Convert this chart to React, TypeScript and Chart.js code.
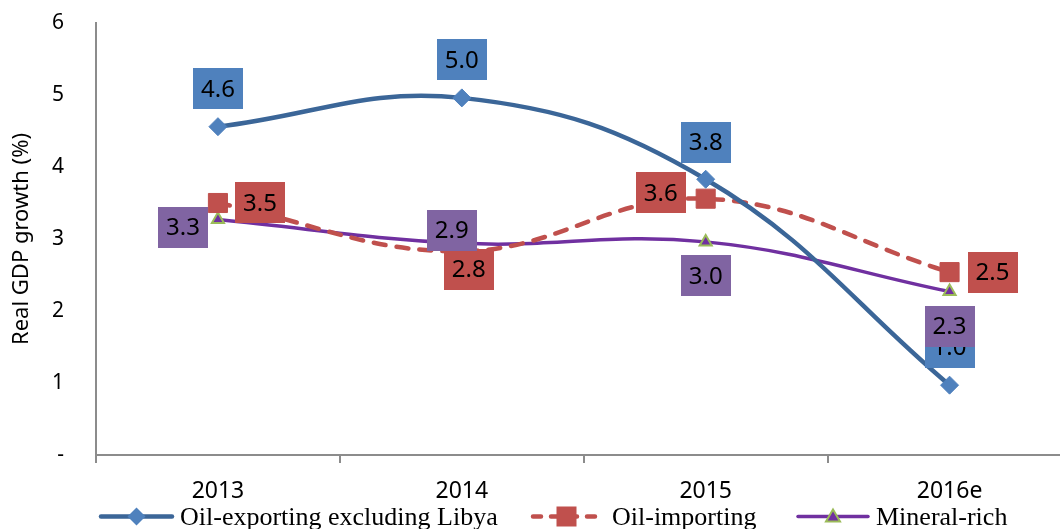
import React, { useEffect, useRef } from 'react';
import { Chart, registerables } from 'chart.js';

Chart.register(...registerables);

const categories = ['2013', '2014', '2015', '2016e'];
const oilExporting = [4.56, 4.96, 3.83, 0.97];
const oilImporting = [3.5, 2.83, 3.56, 2.54];
const mineralRich = [3.27, 2.94, 2.96, 2.27];
const oilExportingLabels = ['4.6', '5.0', '3.8', '1.0'];
const oilImportingLabels = ['3.5', '2.8', '3.6', '2.5'];
const mineralRichLabels = ['3.3', '2.9', '3.0', '2.3'];
const seriesNames = ['Oil-exporting excluding Libya', 'Oil-importing', 'Mineral-rich'];
const yMin = 0;
const yMax = 6;
const yStep = 1;

// label box offsets (pixels) relative to each point — styling only
const labelOffsets = [
  [[0, -38], [0, -38], [0, -37], [0, -38]],
  [[42, 0], [7, 18], [-45, -6], [43, 0]],
  [[-35, 8], [-10, -13], [0, 34], [0, 35]],
];
const labelColors = ['#4F81BD', '#C0504D', '#8064A2'];
const allLabels = [oilExportingLabels, oilImportingLabels, mineralRichLabels];

const SANS = '"Noto Sans", sans-serif';
const SERIF = '"Liberation Serif", serif';
const AXIS = '#8c8c8c';
const CANVAS_W = 1086;

const dataLabelPlugin = {
  id: 'dataLabelBoxes',
  afterDatasetsDraw(chart: any) {
    const ctx = chart.ctx;
    ctx.save();
    ctx.font = `24px ${SANS}`;
    ctx.textAlign = 'center';
    ctx.textBaseline = 'middle';
    chart.data.datasets.forEach((ds: any, i: number) => {
      const meta = chart.getDatasetMeta(i);
      meta.data.forEach((pt: any, j: number) => {
        const [dx, dy] = labelOffsets[i][j];
        const cx = pt.x + dx;
        const cy = pt.y + dy;
        const text = allLabels[i][j];
        const w = 50;
        const h = 41;
        ctx.fillStyle = labelColors[i];
        ctx.fillRect(Math.round(cx - w / 2), Math.round(cy - h / 2), w, h);
        ctx.fillStyle = '#000';
        ctx.fillText(text, cx, cy + 1);
      });
    });
    ctx.restore();
  },
};

function drawMarker(ctx: CanvasRenderingContext2D, kind: string, x: number, y: number) {
  ctx.save();
  if (kind === 'diamond') {
    ctx.fillStyle = '#4F81BD';
    ctx.beginPath();
    ctx.moveTo(x, y - 9);
    ctx.lineTo(x + 9, y);
    ctx.lineTo(x, y + 9);
    ctx.lineTo(x - 9, y);
    ctx.closePath();
    ctx.fill();
  } else if (kind === 'square') {
    ctx.fillStyle = '#C0504D';
    ctx.fillRect(x - 10, y - 10, 20, 20);
  } else {
    ctx.fillStyle = '#7030A0';
    ctx.strokeStyle = '#9BBB59';
    ctx.lineWidth = 2;
    ctx.beginPath();
    ctx.moveTo(x, y - 7);
    ctx.lineTo(x + 7, y + 5);
    ctx.lineTo(x - 7, y + 5);
    ctx.closePath();
    ctx.fill();
    ctx.stroke();
  }
  ctx.restore();
}

const legendPlugin = {
  id: 'bottomLegend',
  afterDraw(chart: any) {
    const ctx = chart.ctx;
    const cy = 516.5;
    const items = [
      { x0: 101, x1: 172, color: '#3B6698', dash: [] as number[], width: 4.5, marker: 'diamond', tx: 180 },
      { x0: 533, x1: 600, color: '#C0504D', dash: [8, 10], width: 4.5, marker: 'square', tx: 612 },
      { x0: 798, x1: 868, color: '#7030A0', dash: [] as number[], width: 3.5, marker: 'triangle', tx: 876 },
    ];
    ctx.save();
    items.forEach((it, i) => {
      ctx.strokeStyle = it.color;
      ctx.lineWidth = it.width;
      ctx.lineCap = 'round';
      ctx.setLineDash(it.dash);
      ctx.beginPath();
      ctx.moveTo(it.x0, cy);
      ctx.lineTo(it.x1, cy);
      ctx.stroke();
      ctx.setLineDash([]);
      drawMarker(ctx, it.marker, (it.x0 + it.x1) / 2, cy);
      ctx.fillStyle = '#000';
      ctx.font = `26px ${SERIF}`;
      ctx.textAlign = 'left';
      ctx.textBaseline = 'alphabetic';
      ctx.fillText(seriesNames[i], it.tx, 525);
    });
    ctx.restore();
  },
};

export default function App() {
  const canvasRef = useRef<HTMLCanvasElement | null>(null);

  useEffect(() => {
    const canvas = canvasRef.current;
    if (!canvas) return;
    const chart = new Chart(canvas, {
      type: 'line',
      data: {
        labels: categories,
        datasets: [
          {
            label: seriesNames[0],
            data: oilExporting,
            borderColor: '#3B6698',
            backgroundColor: '#4F81BD',
            borderWidth: 4.5,
            tension: 0.4,
            pointStyle: 'rectRot',
            pointRadius: 9,
            pointBorderColor: '#4F81BD',
            pointBackgroundColor: '#4F81BD',
            pointBorderWidth: 1,
          },
          {
            label: seriesNames[1],
            data: oilImporting,
            borderColor: '#C0504D',
            backgroundColor: '#C0504D',
            borderWidth: 4.5,
            borderDash: [12, 11],
            borderCapStyle: 'round',
            tension: 0.4,
            pointStyle: 'rect',
            pointRadius: 13.5,
            pointBorderColor: '#C0504D',
            pointBackgroundColor: '#C0504D',
            pointBorderWidth: 1,
          },
          {
            label: seriesNames[2],
            data: mineralRich,
            borderColor: '#7030A0',
            backgroundColor: '#7030A0',
            borderWidth: 3.5,
            tension: 0.4,
            pointStyle: 'triangle',
            pointRadius: 7,
            pointBorderColor: '#9BBB59',
            pointBackgroundColor: '#7030A0',
            pointBorderWidth: 2,
          },
        ],
      },
      options: {
        animation: false,
        responsive: false,
        maintainAspectRatio: false,
        layout: { padding: { top: 23, left: 0, right: 0, bottom: 0 } },
        plugins: {
          legend: { display: false },
          tooltip: { enabled: false },
        },
        scales: {
          x: {
            offset: true,
            afterFit: (s: any) => {
              s.height = 74;
              s.paddingLeft = 0;
              s.paddingRight = 0;
            },
            grid: {
              display: true,
              drawOnChartArea: false,
              drawTicks: true,
              tickLength: 8,
              offset: true,
              color: AXIS,
              lineWidth: 2,
            },
            border: { display: true, color: AXIS, width: 2 },
            ticks: {
              color: '#000',
              font: { family: SANS, size: 23 },
              padding: 15,
              maxRotation: 0,
            },
          },
          y: {
            min: yMin,
            max: yMax,
            afterFit: (s: any) => {
              s.width = 96;
              s.paddingTop = 0;
              s.paddingBottom = 0;
            },
            grid: { display: true, drawOnChartArea: false, drawTicks: false },
            border: { display: true, color: AXIS, width: 2 },
            ticks: {
              stepSize: yStep,
              color: '#000',
              font: { family: SANS, size: 21 },
              padding: 32,
              callback: (v: any) => (Number(v) === 0 ? '-' : String(v)),
            },
            title: {
              display: true,
              text: 'Real GDP growth (%)',
              color: '#000',
              font: { family: SANS, size: 22 },
              padding: { top: 9, bottom: 0 },
            },
          },
        },
      },
      plugins: [dataLabelPlugin, legendPlugin],
    });
    return () => chart.destroy();
  }, []);

  return (
    <div style={{ position: 'absolute', left: 0, top: 0, width: 1060, height: 529, overflow: 'hidden', background: '#fff' }}>
      <canvas ref={canvasRef} width={CANVAS_W} height={529} style={{ width: CANVAS_W, height: 529, display: 'block' }} />
    </div>
  );
}
